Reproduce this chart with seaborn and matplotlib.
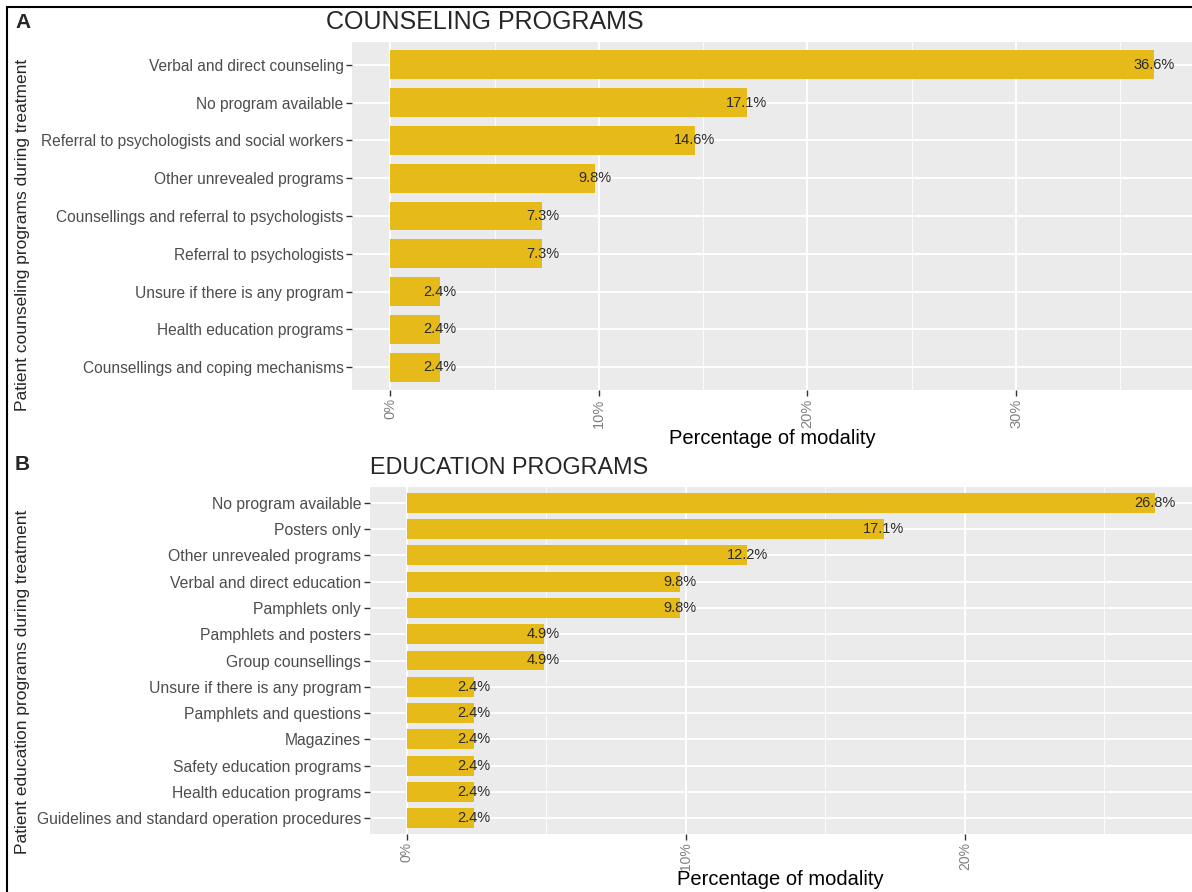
import matplotlib
matplotlib.use("Agg")
import matplotlib.pyplot as plt
from matplotlib.lines import Line2D
import seaborn as sns
import pandas as pd

# ---- data ----
counsel_cats = ["Verbal and direct counseling", "No program available",
                "Referral to psychologists and social workers", "Other unrevealed programs",
                "Counsellings and referral to psychologists", "Referral to psychologists",
                "Unsure if there is any program", "Health education programs",
                "Counsellings and coping mechanisms"]
counsel_vals = [36.6, 17.1, 14.6, 9.8, 7.3, 7.3, 2.4, 2.4, 2.4]

edu_cats = ["No program available", "Posters only", "Other unrevealed programs",
            "Verbal and direct education", "Pamphlets only", "Pamphlets and posters",
            "Group counsellings", "Unsure if there is any program", "Pamphlets and questions",
            "Magazines", "Safety education programs", "Health education programs",
            "Guidelines and standard operation procedures"]
edu_vals = [26.8, 17.1, 12.2, 9.8, 9.8, 4.9, 4.9, 2.4, 2.4, 2.4, 2.4, 2.4, 2.4]

counsel_ticks = [0, 10, 20, 30]
edu_ticks = [0, 10, 20]

sns.set_theme(style="darkgrid")
plt.rcParams['font.family'] = ['Liberation Sans', 'DejaVu Sans']

BAR = "#E6BA18"
PANEL = "#EBEBEB"

fig = plt.figure(figsize=(11.92, 8.92), dpi=100)
W, H = 1192, 892


def rect(l, t, r, b):
    return [l / W, 1 - b / H, (r - l) / W, (b - t) / H]


def panel(ax, cats, vals, ticks, ylab_size, xtick_size, xlabelpad):
    df = pd.DataFrame({"cat": cats, "val": vals})
    sns.barplot(data=df, x="val", y="cat", orient="h", color=BAR, width=0.76,
                saturation=1, ax=ax, zorder=3, linewidth=0, edgecolor="none")
    vmax = max(vals)
    ax.set_xlim(-0.05 * vmax, 1.05 * vmax)
    n = len(cats)
    ax.set_ylim(n - 0.4, -0.6)
    ax.set_facecolor(PANEL)
    for s in ax.spines.values():
        s.set_visible(False)
    ax.set_xticks(ticks)
    ax.set_xticklabels([f"{t}%" for t in ticks], rotation=90, fontsize=xtick_size,
                       color="#7F7F7F")
    minor = [t + 5 for t in ticks]
    ax.set_xticks(minor, minor=True)
    ax.grid(which="major", axis="both", color="white", linewidth=1.4, zorder=0)
    ax.grid(which="minor", axis="x", color="white", linewidth=0.6, zorder=0)
    ax.set_axisbelow(True)
    ax.tick_params(axis="both", which="major", length=4, width=1, color="#333333",
                   bottom=True, left=True, pad=2)
    ax.tick_params(axis="x", which="minor", length=0)
    ax.tick_params(axis="y", labelsize=ylab_size, labelcolor="#4D4D4D")
    ax.set_xlabel("Percentage of modality", fontsize=14.5, color="black", labelpad=xlabelpad)
    ax.set_ylabel("")
    for i, v in enumerate(vals):
        ax.text(v, i, f"{v}%", ha="center", va="center", fontsize=10.5,
                color="#2A2A2A", zorder=5)


axA = fig.add_axes(rect(352, 42, 1192, 390))
panel(axA, counsel_cats, counsel_vals, counsel_ticks, 11.2, 10.5, 1)
axB = fig.add_axes(rect(369.5, 487, 1192, 834))
panel(axB, edu_cats, edu_vals, edu_ticks, 11.3, 10, 0)

fig.text(326 / W, 1 - 22 / H, "COUNSELING PROGRAMS", fontsize=18, ha="left", va="center")
fig.text(370 / W, 1 - 467 / H, "EDUCATION PROGRAMS", fontsize=16.8, ha="left", va="center")
fig.text(15 / W, 1 - 23 / H, "A", fontsize=15, fontweight="bold", ha="left", va="center")
fig.text(15 / W, 1 - 465 / H, "B", fontsize=15, fontweight="bold", ha="left", va="center")
fig.text(23 / W, 1 - 235 / H, "Patient counseling programs during treatment", fontsize=12.5,
         rotation=90, ha="center", va="center")
fig.text(23 / W, 1 - 682 / H, "Patient education programs during treatment", fontsize=12.5,
         rotation=90, ha="center", va="center")

# frame lines
fig.add_artist(Line2D([7 / W, 1], [1 - 7 / H, 1 - 7 / H], color="black", linewidth=1.5))
fig.add_artist(Line2D([7 / W, 7 / W], [0, 1 - 7 / H], color="black", linewidth=1.5))

fig.savefig("out.png", dpi=100)
